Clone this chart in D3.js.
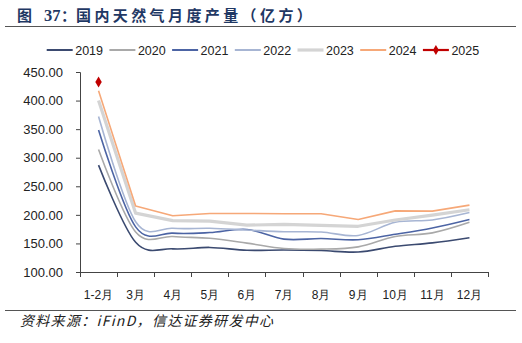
<!DOCTYPE html>
<html><head><meta charset="utf-8">
<script src="https://cdn.jsdelivr.net/npm/d3@7"></script>
<style>
html,body{margin:0;padding:0;background:#fff;}
svg{display:block;}
</style></head>
<body>
<script>
const categories = ["1-2月","3月","4月","5月","6月","7月","8月","9月","10月","11月","12月"];
const seriesNames = ["2019","2020","2021","2022","2023","2024","2025"];
const v2019 = [287, 152, 140.5, 143, 138, 138.5, 137.5, 135, 145, 151, 160];
const v2020 = [314.5, 170, 162, 159, 150.5, 141, 140, 144, 162, 168.5, 187];
const v2021 = [348.5, 179, 168, 169, 174.5, 157.5, 158.5, 156.5, 166, 177, 192];
const v2022 = [372, 188, 176.5, 176.5, 173.5, 170.5, 170, 164, 187, 191, 204];
const v2023 = [400, 203, 190, 189, 182, 183.5, 181.5, 180, 191, 199.5, 209];
const v2024 = [417, 215.5, 198.5, 202.5, 202.5, 202, 202, 192, 207, 206.5, 217];
const v2025 = [432.5];
const yTicks = [100,150,200,250,300,350,400,450];

const colors = ["#3b4a70","#a9a9a9","#4c64a4","#a7b5d3","#d4d4d4","#f6a878","#c00000"];
const widths = [1.6,1.6,1.6,1.6,3.2,1.6,1.6];
const smooth = [true,true,true,true,false,false,false];
const allValues = [v2019,v2020,v2021,v2022,v2023,v2024,v2025];

const W = 522, H = 343;
const svg = d3.select("body").append("svg").attr("width",W).attr("height",H);

// Title
const tFont = "'Noto Sans CJK SC', sans-serif";
const tColor = "#1f3864";
svg.append("text").attr("x",17).attr("y",21).attr("fill",tColor).attr("font-weight","bold")
  .attr("font-family",tFont).attr("font-size",15).text("图");
svg.append("text").attr("x",44).attr("y",21).attr("fill",tColor).attr("font-weight","bold")
  .attr("font-family","'Liberation Serif', serif").attr("font-size",16.5).text("37");
svg.append("text").attr("x",61).attr("y",21).attr("fill",tColor).attr("font-weight","bold")
  .attr("font-family",tFont).attr("font-size",15).text("：");
svg.append("text").attr("x",76).attr("y",21).attr("fill",tColor).attr("font-weight","bold")
  .attr("font-family",tFont).attr("font-size",15).attr("letter-spacing",3.4)
  .text("国内天然气月度产量（亿方）");
svg.append("line").attr("x1",5).attr("x2",516).attr("y1",26.5).attr("y2",26.5)
  .attr("stroke","#555").attr("stroke-width",1);

// Scales
const x = d3.scaleBand().domain(categories).range([80,488]);
const y = d3.scaleLinear().domain([100,450]).range([272,72]);
const cx = c => x(c) + x.bandwidth()/2;

// Y axis
const yAxis = svg.append("g").attr("transform","translate(80,0)")
  .call(d3.axisLeft(y).tickValues(yTicks).tickSize(4).tickFormat(d3.format(".2f")));
yAxis.select(".domain").attr("stroke","#444");
yAxis.selectAll(".tick line").attr("stroke","#444");
yAxis.selectAll(".tick text").attr("font-family","'Liberation Sans', Arial, sans-serif")
  .attr("font-size",13).attr("fill","#222").attr("x",-17);

// X axis
const xg = svg.append("g");
xg.append("line").attr("x1",x.range()[0]).attr("x2",x.range()[1]).attr("y1",y(100)+0.5).attr("y2",y(100)+0.5)
  .attr("stroke","#444");
const bounds = categories.map(c => x(c)).concat([x(categories[categories.length-1]) + x.bandwidth()]);
xg.selectAll("line.tk").data(bounds).enter().append("line").attr("class","tk")
  .attr("x1",d=>Math.round(d)+0.5).attr("x2",d=>Math.round(d)+0.5)
  .attr("y1",y(100)).attr("y2",y(100)+5).attr("stroke","#444");
xg.selectAll("text").data(categories).enter().append("text")
  .attr("x",d=>cx(d)).attr("y",299).attr("text-anchor","middle")
  .attr("font-family","'Liberation Sans', Arial, sans-serif").attr("font-size",12).attr("fill","#222")
  .text(d=>d);

// Lines
allValues.forEach((vals,i) => {
  const line = d3.line().x((d,j)=>cx(categories[j])).y(d=>y(d))
    .curve(smooth[i] ? d3.curveCardinal.tension(0) : d3.curveLinear);
  if (vals.length > 1) {
    svg.append("path").datum(vals).attr("d",line).attr("fill","none")
      .attr("stroke",colors[i]).attr("stroke-width",widths[i]).attr("stroke-linejoin","round");
  }
});
// 2025 marker
svg.selectAll("path.mk").data(v2025).enter().append("path").attr("class","mk")
  .attr("d",d3.symbol().type(d3.symbolDiamond).size(36))
  .attr("transform",(d,j)=>`translate(${cx(categories[j])},${y(d)})`)
  .attr("fill",colors[6]);

// Legend
const lg = svg.append("g");
seriesNames.forEach((n,i) => {
  const lx = 46.7 + i*62.7, ly = 50;
  lg.append("line").attr("x1",lx).attr("x2",lx+26).attr("y1",ly).attr("y2",ly)
    .attr("stroke",colors[i]).attr("stroke-width",i===4?3.2:(i===6?2.2:2));
  if (i===6) {
    lg.append("path").attr("d",d3.symbol().type(d3.symbolDiamond).size(30))
      .attr("transform",`translate(${lx+13},${ly})`).attr("fill",colors[i]);
  }
  lg.append("text").attr("x",lx+28.5).attr("y",ly+4.5)
    .attr("font-family","'Liberation Sans', Arial, sans-serif").attr("font-size",12.5).attr("fill","#222")
    .text(n);
});

// Source
svg.append("line").attr("x1",5).attr("x2",516).attr("y1",310.5).attr("y2",310.5)
  .attr("stroke","#555").attr("stroke-width",1);
svg.append("text").attr("x",20).attr("y",326)
  .attr("font-family","'Noto Sans CJK SC', sans-serif").attr("font-style","italic")
  .attr("font-size",14).attr("fill","#222").attr("letter-spacing",1.3)
  .text("资料来源：iFinD，信达证券研发中心");
</script>
</body></html>
